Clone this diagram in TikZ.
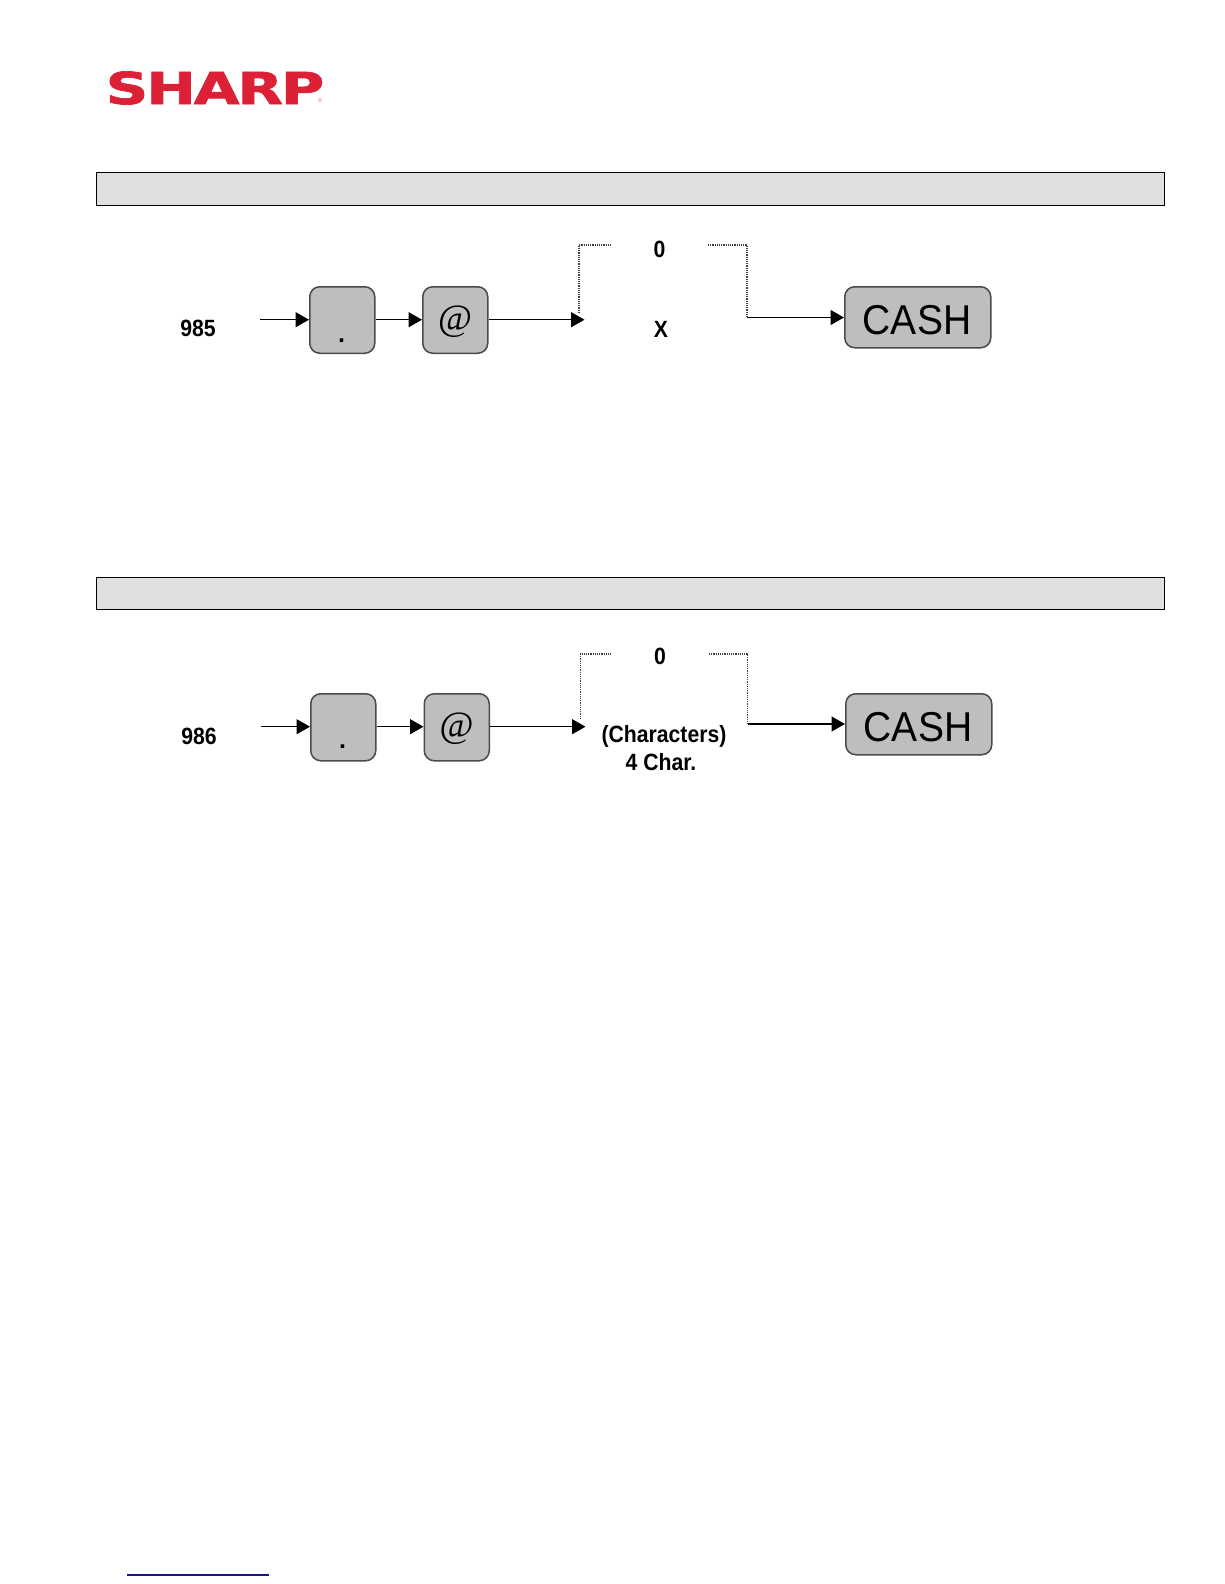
\documentclass[tikz,border=0pt]{standalone}
\usepackage{fontspec}
\setmainfont{Liberation Sans}
\newfontfamily\atfont{Liberation Serif}
\newfontfamily\logofont[FakeBold=1.5,LetterSpace=-3.5]{DejaVu Sans Bold}
\usetikzlibrary{arrows.meta}
\definecolor{keygrey}{HTML}{BEBEBE}
\definecolor{keyedge}{HTML}{4A4A4A}
\definecolor{bargrey}{HTML}{DFDFDF}
\definecolor{sharpred}{HTML}{DC2035}
\definecolor{linknavy}{HTML}{14148C}
\newcommand{\talltext}[1]{\scalebox{1.01}[1.12]{#1}}
\tikzset{
  x=1pt,y=-1pt,
  keybox/.style={draw=keyedge,fill=keygrey,line width=1.5pt,rounded corners=10pt,inner sep=0pt,anchor=north west},
  keydot/.style={inner sep=0pt,anchor=base,font=\bfseries\fontsize{25}{25}\selectfont},
  keyat/.style={font=\atfont\itshape\fontsize{37}{37}\selectfont},
  cashtext/.style={font=\fontsize{39}{40}\selectfont},
  codetext/.style={font=\bfseries\fontsize{21}{24}\selectfont,inner sep=0pt},
  barbox/.style={draw=black,fill=bargrey,line width=1.3pt,inner sep=0pt,anchor=north west},
  flow/.style={draw=black,line width=1.3pt,-{Triangle[length=13.5pt,width=15pt]}},
  optline/.style={draw=black!75,line width=1.2pt,dash pattern=on 1.2pt off 1pt},
}
\begin{document}
\begin{tikzpicture}
\useasboundingbox[fill=white] (0,0) rectangle (1224,1584);
% logo
\node[text=sharpred,inner sep=0pt,anchor=east] (logo) at (324.5,88) {\scalebox{1.345}[1]{\logofont\fontsize{44}{44}\selectfont SHARP}};
\node[text=sharpred!60,inner sep=0pt,font=\fontsize{6}{6}\selectfont] (regmark) at (320,100.5) {®};
% section bars
\node[barbox,minimum width=1067.5pt,minimum height=32.5pt] (barA) at (96,172) {};
\node[barbox,minimum width=1067.5pt,minimum height=32.5pt] (barB) at (96,576.5) {};
% first diagram
\node[codetext] (codeA) at (198,328.5) {\talltext{985}};
\coordinate (startA) at (260,319.7);
\node[keybox,minimum width=65pt,minimum height=66.5pt] (dotA) at (309,286) {};
\node[keybox,minimum width=65pt,minimum height=66.5pt] (atA) at (422,286) {};
\node[keydot] at (341.5,342.5) {.};
\node[keyat] at (455,322) {@};
\coordinate (tipA) at (584.5,319.7);
\coordinate (dropAl) at (579,313);
\coordinate (cornerAl) at (579,245);
\coordinate (endAl) at (612,245);
\node[codetext] (zeroA) at (659.5,249) {\talltext{0}};
\node[codetext] (xA) at (661,329) {\talltext{X}};
\coordinate (startAr) at (708,245);
\coordinate (cornerAr) at (747,245);
\coordinate (joinAr) at (747,317.5);
\node[keybox,minimum width=146pt,minimum height=61pt] (cashA) at (844,286) {};
\node[cashtext] at (917,320) {\scalebox{1}[1.07]{CASH}};
\draw[flow] (startA) -- (startA -| dotA.west);
\draw[flow] (dotA.east |- startA) -- (atA.west |- startA);
\draw[flow] (atA.east |- startA) -- (tipA);
\draw[optline] (dropAl) -- (cornerAl) -- (endAl);
\draw[optline] (startAr) -- (cornerAr) -- (joinAr);
\draw[flow] (joinAr) -- (joinAr -| cashA.west);
% second diagram
\node[codetext] (codeB) at (199,736) {\talltext{986}};
\coordinate (startB) at (261,726.7);
\node[keybox,minimum width=65pt,minimum height=67pt] (dotB) at (310,693) {};
\node[keybox,minimum width=65pt,minimum height=67pt] (atB) at (423.5,693) {};
\node[keydot] at (342.5,748.5) {.};
\node[keyat] at (456.5,729) {@};
\coordinate (tipB) at (585.5,726.7);
\coordinate (dropBl) at (580.5,719);
\coordinate (cornerBl) at (580.5,654);
\coordinate (endBl) at (612,654);
\node[codetext] (zeroB) at (660,656.5) {\talltext{0}};
\node[codetext] (charsB) at (664,736.5) {\talltext{(Characters)}};
\node[codetext] (fourB) at (661,762) {\talltext{4 Char.}};
\coordinate (startBr) at (709,654);
\coordinate (cornerBr) at (747.7,654);
\coordinate (joinBr) at (747.7,724);
\node[keybox,minimum width=146pt,minimum height=61pt] (cashB) at (845,693) {};
\node[cashtext] at (918,727) {\scalebox{1}[1.07]{CASH}};
\draw[flow] (startB) -- (startB -| dotB.west);
\draw[flow] (dotB.east |- startB) -- (atB.west |- startB);
\draw[flow] (atB.east |- startB) -- (tipB);
\draw[optline] (dropBl) -- (cornerBl) -- (endBl);
\draw[optline] (startBr) -- (cornerBr) -- (joinBr);
\draw[flow] (joinBr) -- (joinBr -| cashB.west);
% footer rule
\coordinate (ruleL) at (127,1575);
\coordinate (ruleR) at (269,1575);
\draw[linknavy,line width=1.6pt] (ruleL) -- (ruleR);
\end{tikzpicture}
\end{document}
